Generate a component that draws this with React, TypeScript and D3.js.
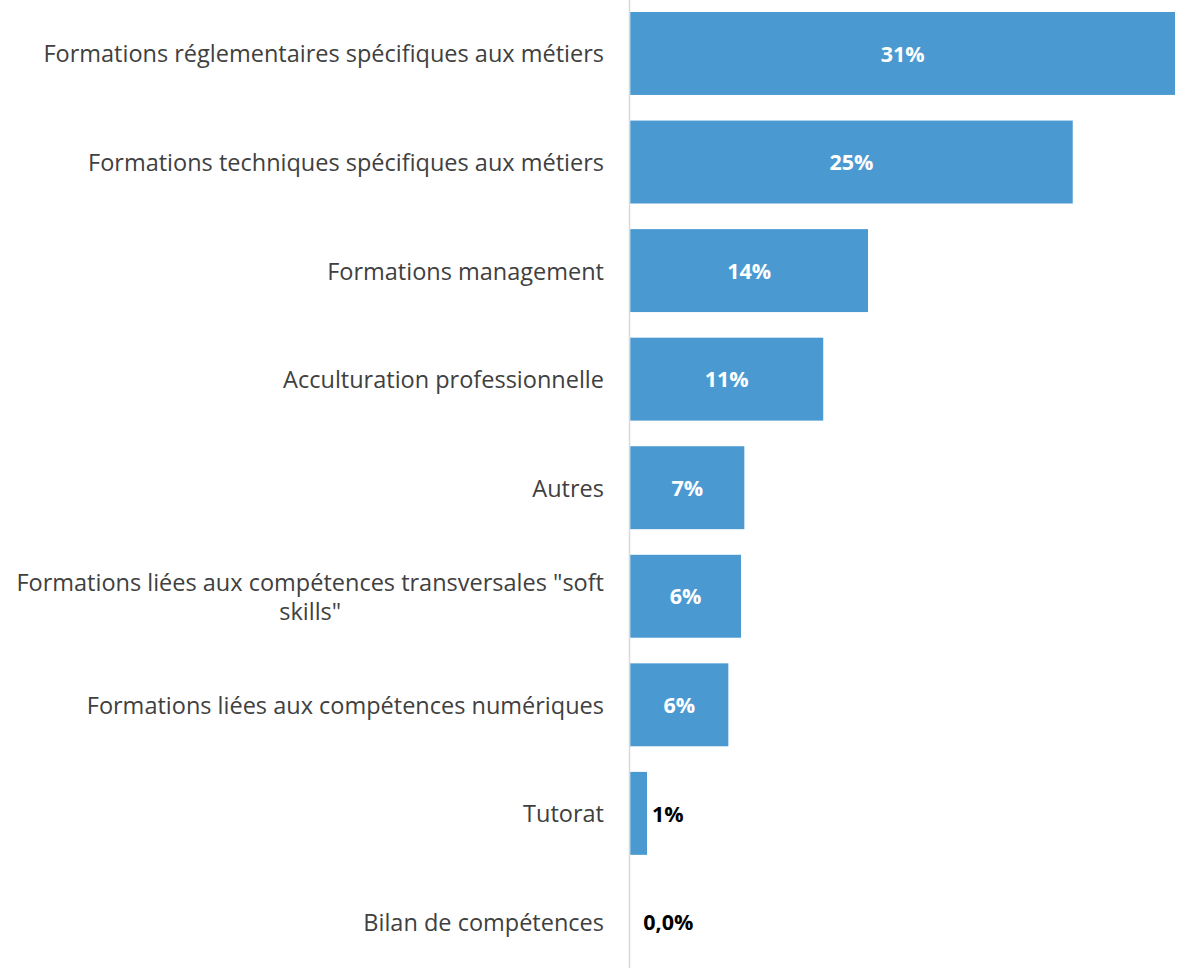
import React, { useEffect, useRef } from "react";
import * as d3 from "d3";

const categories = [
  "Formations réglementaires spécifiques aux métiers",
  "Formations techniques spécifiques aux métiers",
  "Formations management",
  "Acculturation professionnelle",
  "Autres",
  "Formations liées aux compétences transversales \"soft skills\"",
  "Formations liées aux compétences numériques",
  "Tutorat",
  "Bilan de compétences",
];
const values = [31.0, 25.18, 13.53, 10.98, 6.49, 6.3, 5.58, 0.95, 0.0];
const valueLabels = ["31%", "25%", "14%", "11%", "7%", "6%", "6%", "1%", "0,0%"];

const W = 1183;
const H = 968;
const FONT = "'Open Sans', 'Noto Sans', sans-serif";

export default function App() {
  const ref = useRef<SVGSVGElement | null>(null);

  useEffect(() => {
    const svg = d3.select(ref.current);
    svg.selectAll("*").remove();

    const x = d3.scaleLinear().domain([0, 31]).range([630.3, 1175]);
    const y = d3
      .scaleBand<string>()
      .domain(categories)
      .range([-0.8, 976.2])
      .paddingInner(0.236)
      .paddingOuter(0.118);

    // axis line
    svg
      .append("line")
      .attr("x1", 629.5)
      .attr("x2", 629.5)
      .attr("y1", 0)
      .attr("y2", H)
      .attr("stroke", "#d9d9d9")
      .attr("stroke-width", 1.5);

    const g = svg.append("g");

    g.selectAll("rect")
      .data(categories)
      .join("rect")
      .attr("x", x(0))
      .attr("y", (d) => y(d)!)
      .attr("width", (_, i) => x(values[i]) - x(0))
      .attr("height", y.bandwidth())
      .attr("fill", "#4A9AD1");

    // value labels
    g.selectAll("text.val")
      .data(categories)
      .join("text")
      .attr("class", "val")
      .attr("x", (_, i) => {
        const w = x(values[i]) - x(0);
        if (w > 60) return (x(0) + x(values[i])) / 2;
        return x(values[i]) + (values[i] > 0 ? 5 : 13);
      })
      .attr("y", (d) => y(d)! + y.bandwidth() / 2)
      .attr("dy", "0.38em")
      .attr("text-anchor", (_, i) => (x(values[i]) - x(0) > 60 ? "middle" : "start"))
      .attr("fill", (_, i) => (x(values[i]) - x(0) > 60 ? "#ffffff" : "#000000"))
      .style("font-family", FONT)
      .style("font-size", "21.5px")
      .style("font-weight", "bold")
      .text((_, i) => valueLabels[i]);

    // category labels with wrapping
    const maxW = 600;
    const lineH = 29;
    categories.forEach((cat) => {
      const cy = y(cat)! + y.bandwidth() / 2;
      const t = svg
        .append("text")
        .attr("x", 604)
        .attr("text-anchor", "end")
        .attr("fill", "#404040")
        .style("font-family", FONT)
        .style("font-size", "23.5px");
      const words = cat.split(" ");
      const lines: string[] = [];
      let cur: string[] = [];
      const probe = t.append("tspan");
      words.forEach((w) => {
        const test = [...cur, w].join(" ");
        probe.text(test);
        if ((probe.node() as SVGTSpanElement).getComputedTextLength() > maxW && cur.length) {
          lines.push(cur.join(" "));
          cur = [w];
        } else {
          cur.push(w);
        }
      });
      lines.push(cur.join(" "));
      probe.remove();
      const start = cy - ((lines.length - 1) * lineH) / 2;
      lines.forEach((ln, k) => {
        t.append("tspan")
          .attr("x", k > 0 ? 604 - (lines.length > 1 ? 0 : 0) : 604)
          .attr("y", start + k * lineH)
          .attr("dy", "0.38em")
          .attr("text-anchor", k > 0 ? "middle" : "end")
          .text(ln);
      });
      // center continuation lines relative to first line
      if (lines.length > 1) {
        const first = t.select("tspan").node() as SVGTSpanElement;
        const fw = first.getComputedTextLength();
        t.selectAll("tspan")
          .filter((_, k) => k > 0)
          .attr("x", 604 - fw / 2);
      }
    });
  }, []);

  return (
    <svg
      ref={ref}
      width={W}
      height={H}
      style={{ position: "absolute", left: 0, top: 0, background: "#ffffff" }}
    />
  );
}
